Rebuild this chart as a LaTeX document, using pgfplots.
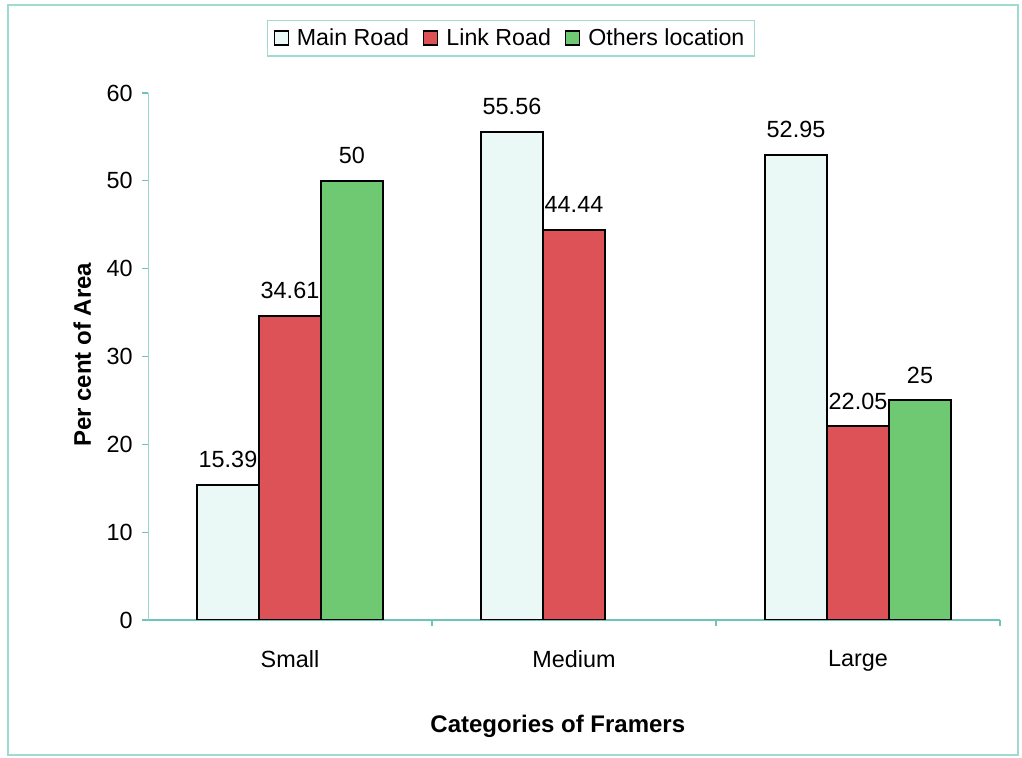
\documentclass[border=0pt]{standalone}
\usepackage{fontspec}
\setmainfont{Liberation Sans}
\usepackage{pgfplots}
\pgfplotsset{compat=1.18}

\definecolor{mainroad}{RGB}{234,248,246}
\definecolor{linkroad}{RGB}{221,82,86}
\definecolor{others}{RGB}{110,201,114}
\definecolor{frameteal}{RGB}{160,218,208}
\definecolor{axisteal}{RGB}{110,196,186}

\begin{document}
\begin{tikzpicture}[x=0.5pt,y=0.5pt]
\path[use as bounding box] (0,0) rectangle (1022,758);
\draw[frameteal, line width=0.7pt] (8,3) rectangle (1018,753);
\begin{axis}[
  at={(74pt,69pt)}, anchor=south west,
  scale only axis, width=426pt, height=263.5pt,
  ybar=0pt, bar width=31pt,
  xmin=-0.5, xmax=2.5, ymin=0, ymax=60,
  axis x line*=bottom, axis y line*=left,
  x axis line style={axisteal, line width=0.7pt},
  y axis line style={axisteal!70, line width=0.5pt},
  xtick={0,1,2}, xticklabels={Small,Medium,Large},
  major x tick style={draw=none},
  minor xtick={0.5,1.5,2.5},
  minor tick length=3pt,
  minor x tick style={axisteal, line width=0.6pt},
  ytick={0,10,...,60},
  major tick length=3pt,
  major y tick style={axisteal, line width=0.6pt},
  tick align=outside,
  /pgf/number format/assume math mode=true,
  tick label style={font=\fontsize{11.7}{14}\selectfont, inner sep=0pt},
  yticklabel style={anchor=east, xshift=-4.5pt},
  xticklabel style={anchor=north, yshift=-12pt},
  ylabel={Per cent of Area},
  xlabel={Categories of Framers},
  every axis y label/.style={at={(axis description cs:-0.077,0.503)}, rotate=90, anchor=center, font=\fontsize{12}{14}\selectfont\bfseries},
  every axis x label/.style={at={(axis description cs:0.481,-0.201)}, anchor=center, font=\fontsize{12}{14}\selectfont\bfseries},
  legend columns=3,
  legend style={at={(axis description cs:0.426,1.104)}, anchor=center,
    draw=frameteal, line width=0.6pt, font=\fontsize{11.6}{14}\selectfont,
    inner xsep=3pt, inner ysep=2pt,
    /tikz/every odd column/.append style={column sep=2pt},
    /tikz/every even column/.append style={column sep=5pt}},
  legend image code/.code={\draw[#1, draw=black, line width=0.7pt] (0pt,-3.5pt) rectangle (7pt,3.5pt);},
  nodes near coords={\pgfmathprintnumber[fixed,precision=2]{\pgfplotspointmeta}},
  every node near coord/.append style={font=\fontsize{11.7}{14}\selectfont, black, anchor=south, inner sep=0pt, yshift=8pt},
]
\addplot[fill=mainroad, draw=black, line width=1pt] coordinates {(0,15.39) (1,55.56) (2,52.95)};
\addplot[fill=linkroad, draw=black, line width=1pt] coordinates {(0,34.61) (1,44.44) (2,22.05)};
\addplot[fill=others, draw=black, line width=1pt] coordinates {(0,50) (2,25)};
\legend{Main Road, Link Road, Others location}
\end{axis}
\end{tikzpicture}
\end{document}
